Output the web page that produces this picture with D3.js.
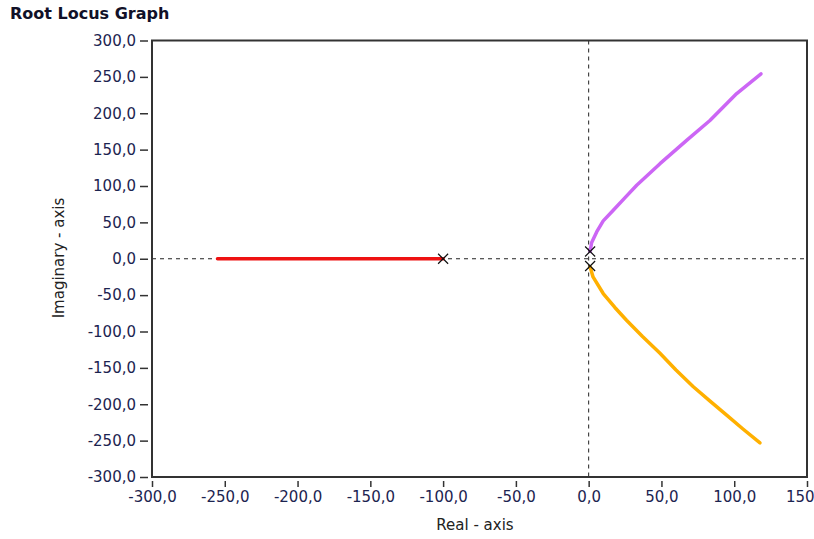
<!DOCTYPE html>
<html>
<head>
<meta charset="utf-8">
<script src="https://cdn.jsdelivr.net/npm/d3@7"></script>
<style>
    body { margin: 0; background: #fff; }
    svg { display: block; font-family: "DejaVu Sans", sans-serif; }
</style>
</head>
<body>
<svg id="chart" width="814" height="539"></svg>
<script>

// Data
const xTicks = [-300, -250, -200, -150, -100, -50, 0, 50, 100, 150];
const yTicks = [300, 250, 200, 150, 100, 50, 0, -50, -100, -150, -200, -250, -300];

const redRe = [-255, -100];
const redIm = [0, 0];

const purpleRe = [1, 2, 5.5, 10, 16.9, 25, 33, 49, 67.3, 83.3, 101.7, 118.4];
const purpleIm = [10, 22, 36.8, 52, 66.6, 84, 101, 130.7, 162.8, 190, 227, 254];

const orangeRe = [1, 3, 10, 18, 26, 37, 49, 60, 71.9, 83, 94.8, 106, 117.7];
const orangeIm = [-11, -25, -47.8, -67, -84.5, -107, -130, -153, -176, -195, -215, -234, -253];

const polesRe = [-100, 1, 1];
const polesIm = [0, 10, -10];

const series = [
    { re: redRe, im: redIm, color: '#ee1111' },
    { re: purpleRe, im: purpleIm, color: '#cc66f5' },
    { re: orangeRe, im: orangeIm, color: '#ffb000' }
];

// Layout
const LEFT = 152, RIGHT = 807, TOP = 40.5, BOTTOM = 477;
const TEXT_COLOR = '#1c2450';

const svg = d3.select('#chart');
const locale = d3.formatLocale({ decimal: ',', thousands: '.', grouping: [3], currency: ['', ''], minus: '-' });
const fmt = locale.format('.1f');

const x = d3.scaleLinear().domain([-300, 150]).range([LEFT, RIGHT]);
const y = d3.scaleLinear().domain([-300, 300]).range([BOTTOM, TOP]);

// Title
svg.append('text')
    .attr('x', 10)
    .attr('y', 19)
    .attr('font-size', 16)
    .attr('font-weight', 'bold')
    .attr('fill', '#111128')
    .text('Root Locus Graph');

// Zero lines
svg.append('line')
    .attr('x1', LEFT).attr('x2', RIGHT)
    .attr('y1', y(0)).attr('y2', y(0))
    .attr('stroke', '#222').attr('stroke-dasharray', '4,4');
svg.append('line')
    .attr('x1', x(0)).attr('x2', x(0))
    .attr('y1', TOP).attr('y2', BOTTOM)
    .attr('stroke', '#222').attr('stroke-dasharray', '4,4');

// Loci
const line = d3.line()
    .x((d) => x(d[0]))
    .y((d) => y(d[1]));

svg.append('g').selectAll('path')
    .data(series)
    .enter()
    .append('path')
        .attr('d', (s) => line(s.re.map((r, i) => [r, s.im[i]])))
        .attr('fill', 'none')
        .attr('stroke', (s) => s.color)
        .attr('stroke-width', 3.5)
        .attr('stroke-linecap', 'round')
        .attr('stroke-linejoin', 'round');

// Poles
const M = 5;
svg.append('g').selectAll('path')
    .data(polesRe.map((r, i) => [r, polesIm[i]]))
    .enter()
    .append('path')
        .attr('d', (d) => {
            let cx = x(d[0]), cy = y(d[1]);
            return 'M' + (cx - M) + ',' + (cy - M) + 'L' + (cx + M) + ',' + (cy + M) +
                'M' + (cx - M) + ',' + (cy + M) + 'L' + (cx + M) + ',' + (cy - M);
        })
        .attr('stroke', '#111')
        .attr('stroke-width', 1.2);

// Frame
svg.append('rect')
    .attr('x', LEFT).attr('y', TOP)
    .attr('width', RIGHT - LEFT).attr('height', BOTTOM - TOP)
    .attr('fill', 'none')
    .attr('stroke', '#333')
    .attr('stroke-width', 2);

// Axes
const xAxis = svg.append('g')
    .attr('transform', 'translate(0,' + (BOTTOM + 4) + ')')
    .call(d3.axisBottom(x).tickValues(xTicks).tickFormat(fmt).tickSize(6).tickSizeOuter(0).tickPadding(4));
xAxis.select('.domain').remove();

const yAxis = svg.append('g')
    .attr('transform', 'translate(' + (LEFT - 4) + ',0)')
    .call(d3.axisLeft(y).tickValues(yTicks).tickFormat(fmt).tickSize(8).tickSizeOuter(0).tickPadding(4));
yAxis.select('.domain').remove();

svg.selectAll('.tick line').attr('stroke', '#333').attr('stroke-width', 1.5);
svg.selectAll('.tick text')
    .attr('font-size', 15)
    .attr('font-family', '"DejaVu Sans", sans-serif')
    .attr('fill', TEXT_COLOR);

// Axis titles
svg.append('text')
    .attr('x', 475)
    .attr('y', 530)
    .attr('text-anchor', 'middle')
    .attr('font-size', 15)
    .attr('fill', '#222')
    .text('Real - axis');

svg.append('text')
    .attr('transform', 'translate(64,258) rotate(-90)')
    .attr('text-anchor', 'middle')
    .attr('font-size', 15)
    .attr('fill', '#222')
    .text('Imaginary - axis');

</script>
</body>
</html>
